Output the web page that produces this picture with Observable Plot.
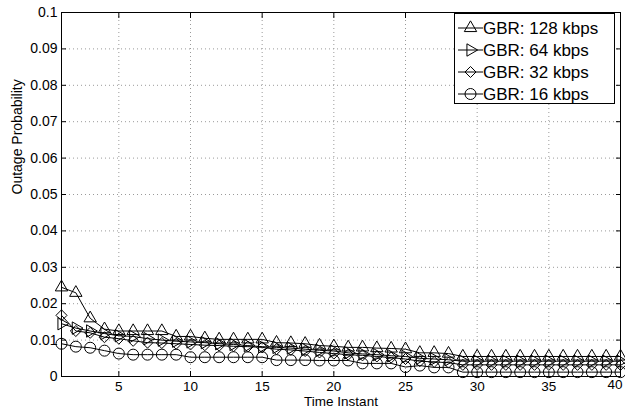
<!DOCTYPE html>
<html>
<head>
<meta charset="utf-8">
<script src="https://cdn.jsdelivr.net/npm/d3@7"></script>
<script src="https://cdn.jsdelivr.net/npm/@observablehq/plot@0.6"></script>
<style>
  html, body { margin: 0; padding: 0; background: #fff; }
  #wrap { position: relative; width: 625px; height: 416px; }
  #legend { position: absolute; left: 0; top: 0; }
</style>
</head>
<body>
<div id="wrap"></div>
<script>
// ---- data ----
const timeInstant = d3.range(1, 41);
const seriesNames = ["GBR: 128 kbps", "GBR: 64 kbps", "GBR: 32 kbps", "GBR: 16 kbps"];
const gbr128 = [0.0245,0.023,0.016,0.013,0.0125,0.0125,0.0125,0.0125,0.011,0.011,
                0.0105,0.0102,0.0102,0.0102,0.0102,0.0093,0.0092,0.009,0.0085,0.0083,
                0.008,0.008,0.0078,0.0077,0.0075,0.0065,0.0065,0.0063,0.0055,0.0055,
                0.0055,0.0055,0.0055,0.0055,0.0055,0.0055,0.0055,0.0055,0.0055,0.0055];
const gbr64  = [0.0145,0.0133,0.0125,0.0118,0.0112,0.011,0.0104,0.01,0.0097,0.0095,
                0.0093,0.009,0.0088,0.0085,0.0082,0.008,0.0078,0.0075,0.0072,0.007,
                0.0065,0.0062,0.006,0.0057,0.0055,0.005,0.0048,0.0046,0.0042,0.0042,
                0.0042,0.0042,0.0042,0.0042,0.0042,0.0042,0.0042,0.0042,0.0042,0.0042];
const gbr32  = [0.0168,0.0125,0.012,0.0108,0.0104,0.0098,0.0093,0.0092,0.009,0.0088,
                0.0086,0.0085,0.0083,0.0082,0.008,0.0075,0.0073,0.007,0.0066,0.0063,
                0.006,0.0058,0.0055,0.0052,0.0048,0.0042,0.004,0.0038,0.0032,0.0032,
                0.0032,0.0032,0.0032,0.0032,0.0032,0.0032,0.0032,0.0032,0.0032,0.0032];
const gbr16  = [0.009,0.0082,0.0079,0.0071,0.0063,0.006,0.006,0.006,0.006,0.0053,
                0.0053,0.0053,0.0053,0.0053,0.0053,0.0045,0.0045,0.0045,0.0044,0.0044,
                0.0044,0.0036,0.0036,0.0036,0.0026,0.003,0.0025,0.0025,0.0012,0.0012,
                0.0012,0.0012,0.0012,0.0012,0.0012,0.0012,0.0012,0.0012,0.0012,0.0012];
const xTicks = [5, 10, 15, 20, 25, 30, 35, 40];
const yTicks = [0, 0.01, 0.02, 0.03, 0.04, 0.05, 0.06, 0.07, 0.08, 0.09, 0.1];
const yTickLabels = ["0", "0.01", "0.02", "0.03", "0.04", "0.05", "0.06", "0.07", "0.08", "0.09", "0.1"];

// ---- symbols ----
const triRight = {
  draw(ctx, size) {
    const a = Math.sqrt(size / (Math.sqrt(3) * 3));
    ctx.moveTo(2 * a, 0);
    ctx.lineTo(-a, -Math.sqrt(3) * a);
    ctx.lineTo(-a, Math.sqrt(3) * a);
    ctx.closePath();
  }
};
const triUp = {
  draw(ctx, size) {
    const a = Math.sqrt(size / (Math.sqrt(3) * 3));
    ctx.moveTo(0, -2 * a);
    ctx.lineTo(Math.sqrt(3) * a, a);
    ctx.lineTo(-Math.sqrt(3) * a, a);
    ctx.closePath();
  }
};
const diamondSq = {
  draw(ctx, size) {
    const h = Math.sqrt(size / 2);
    ctx.moveTo(0, -h);
    ctx.lineTo(h, 0);
    ctx.lineTo(0, h);
    ctx.lineTo(-h, 0);
    ctx.closePath();
  }
};
const symbols = [triUp, triRight, diamondSq, "circle"];
const radii = [4.6, 4.6, 4.4, 5.5];
const allValues = [gbr128, gbr64, gbr32, gbr16];

const rows = [];
allValues.forEach((vals, si) => {
  vals.forEach((v, i) => rows.push({t: timeInstant[i], p: v, s: seriesNames[si]}));
});

const font = "'Liberation Sans', Arial, Helvetica, sans-serif";
const marks = [
  Plot.ruleY(yTicks.filter(d => d > 0 && d < 0.1), {stroke: "#9a9a9a", strokeWidth: 1, strokeDasharray: "1,3"}),
  Plot.ruleX(xTicks.filter(d => d < 40), {stroke: "#9a9a9a", strokeWidth: 1, strokeDasharray: "1,3"}),
];
seriesNames.forEach((name, si) => {
  const data = rows.filter(d => d.s === name);
  marks.push(Plot.line(data, {x: "t", y: "p", stroke: "black", strokeWidth: 1}));
});
seriesNames.forEach((name, si) => {
  const data = rows.filter(d => d.s === name);
  marks.push(Plot.dot(data, {x: "t", y: "p", symbol: () => symbols[si], r: radii[si], stroke: "black", strokeWidth: 1, fill: "none"}));
});
marks.push(
  // inward ticks on all four sides
  Plot.axisX(xTicks, {anchor: "bottom", tickSize: 5, dy: -5, tickFormat: () => "", label: null, stroke: "black"}),
  Plot.axisX(xTicks, {anchor: "top", tickSize: 5, dy: 5, tickFormat: () => "", label: null, stroke: "black"}),
  Plot.axisY(yTicks, {anchor: "left", tickSize: 5, dx: 5, tickFormat: () => "", label: null, stroke: "black"}),
  Plot.axisY(yTicks, {anchor: "right", tickSize: 5, dx: -5, tickFormat: () => "", label: null, stroke: "black"}),
  // tick labels
  Plot.axisX(xTicks.filter(d => d < 40), {anchor: "bottom", tickSize: 0, tickPadding: 5, label: null, fontSize: 13.5, fill: "black"}),
  Plot.text(xTicks.filter(d => d === 40), {x: d => d, frameAnchor: "bottom", dy: 12, dx: 2, textAnchor: "end", fontSize: 13.5, fill: "black"}),
  Plot.axisY(yTicks, {anchor: "left", tickSize: 0, tickPadding: 4, label: null, fontSize: 14, fill: "black",
    tickFormat: d => yTickLabels[yTicks.indexOf(d)]}),
  Plot.frame({stroke: "black", strokeWidth: 1}),
  Plot.text(["Time Instant"], {frameAnchor: "bottom", dy: 29, fontSize: 13.5, fill: "black"}),
  Plot.text(["Outage Probability"], {frameAnchor: "left", dx: -44, rotate: -90, fontSize: 14, fill: "black"})
);

const chart = Plot.plot({
  width: 625,
  height: 416,
  marginLeft: 61,
  marginRight: 5,
  marginTop: 12,
  marginBottom: 40,
  style: {fontFamily: font, background: "white", color: "black"},
  x: {domain: [1, 40], axis: null},
  y: {domain: [0, 0.1], axis: null},
  marks
});
const wrap = document.getElementById("wrap");
wrap.appendChild(chart);

// ---- legend overlay ----
const lg = d3.select(wrap).append("svg").attr("id", "legend")
  .attr("width", 625).attr("height", 416)
  .style("font-family", font);
const box = {x: 454, y: 13, w: 160, h: 90};
lg.append("rect").attr("x", box.x + 0.5).attr("y", box.y + 0.5)
  .attr("width", box.w).attr("height", box.h)
  .attr("fill", "white").attr("stroke", "black").attr("stroke-width", 1);
seriesNames.forEach((name, si) => {
  const cy = box.y + 15 + si * 22;
  const g = lg.append("g");
  g.append("line").attr("x1", box.x + 4).attr("x2", box.x + 29).attr("y1", cy).attr("y2", cy)
    .attr("stroke", "black").attr("stroke-width", 1);
  const size = radii[si] * radii[si] * Math.PI;
  const sym = typeof symbols[si] === "string" ? d3.symbolCircle : symbols[si];
  g.append("path").attr("d", d3.symbol(sym, size)())
    .attr("transform", `translate(${box.x + 16.5},${cy})`)
    .attr("fill", "none").attr("stroke", "black").attr("stroke-width", 1);
  g.append("text").attr("x", box.x + 29).attr("y", cy).attr("dy", "0.35em")
    .attr("font-size", 17).attr("fill", "black").text(name);
});
</script>
</body>
</html>
